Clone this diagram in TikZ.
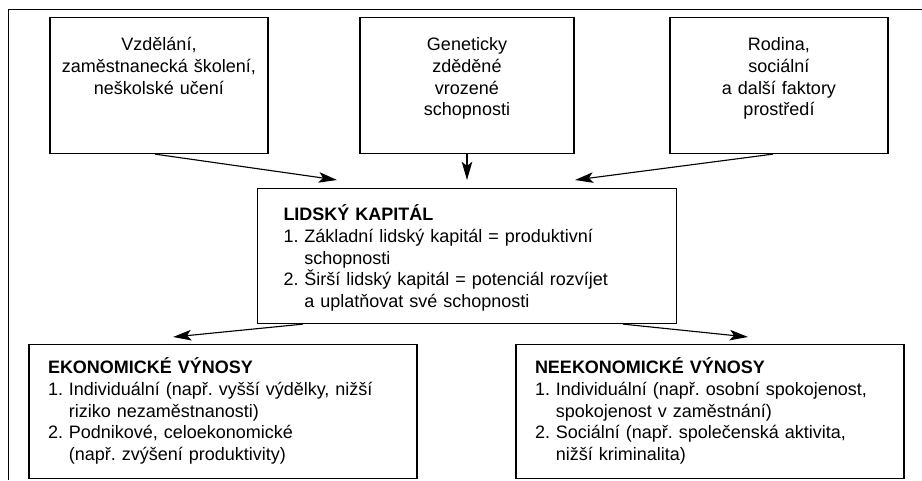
\documentclass[tikz,border=0pt]{standalone}
\usepackage{fontspec}
\setmainfont{Liberation Sans}
\usetikzlibrary{arrows.meta}
\newcommand{\bod}[1]{\makebox[0.52cm][l]{#1}}
\newcommand{\odsad}{\hspace*{0.52cm}}
\frenchspacing
\begin{document}
\begin{tikzpicture}[>={Stealth[length=13pt,width=7.5pt,inset=3pt]}, line width=0.8pt, font=\fontsize{12.8pt}{15.5pt}\selectfont]
        \tikzset{zdroj/.style={draw, anchor=north, align=center, text width=5.45cm, inner sep=0pt, text height=0.825cm, text depth=2.575cm},
                 vynos/.style={draw, anchor=north, align=left, text width=8.75cm, inner xsep=0.475cm, inner ysep=0pt, text height=0.725cm, text depth=2.625cm}}
        \useasboundingbox (0,0) rectangle (23.05,12);
        \draw[line width=0.6pt] (0.2,0) -- (0.2,11.775) -- (23.05,11.775);
        \node[zdroj] (vzdelani) at (3.975,11.575) {Vzdělání,\\zaměstnanecká školení,\\neškolské učení};
        \node[zdroj, text width=5.35cm] (geny) at (11.675,11.575) {Geneticky\\zděděné\\vrozené\\schopnosti};
        \node[zdroj] (rodina) at (19.475,11.575) {Rodina,\\sociální\\a další faktory\\prostředí};
        \node[vynos, text width=9.175cm, inner xsep=0.65cm, text height=0.8cm, text depth=2.575cm] (kapital) at (11.675,7.3)
            {\textbf{LIDSKÝ KAPITÁL}\\
             \bod{1.}Základní lidský kapitál = produktivní\\
             \odsad schopnosti\\
             \bod{2.}Širší lidský kapitál = potenciál rozvíjet\\
             \odsad a uplatňovat své schopnosti};
        \node[vynos] (ekonom) at (5.575,3.4)
            {\textbf{EKONOMICKÉ VÝNOSY}\\
             \bod{1.}Individuální (např. vyšší výdělky, nižší\\
             \odsad riziko nezaměstnanosti)\\
             \bod{2.}Podnikové, celoekonomické\\
             \odsad (např. zvýšení produktivity)};
        \node[vynos] (neekonom) at (17.75,3.4)
            {\textbf{NEEKONOMICKÉ VÝNOSY}\\
             \bod{1.}Individuální (např. osobní spokojenost,\\
             \odsad spokojenost v zaměstnání)\\
             \bod{2.}Sociální (např. společenská aktivita,\\
             \odsad nižší kriminalita)};
        \draw[->] ([xshift=-0.1cm]vzdelani.south) -- ([shift={(-3.25,0.2)}]kapital.north);
        \draw[->] (geny.south) -- ([yshift=0.2cm]kapital.north);
        \draw[->] ([xshift=-0.15cm]rodina.south) -- ([shift={(2.7,0.2)}]kapital.north);
        \draw[->] ([xshift=-4.1cm]kapital.south) -- ([shift={(-1.25,0.175)}]ekonom.north);
        \draw[->] ([xshift=3.9cm]kapital.south) -- ([shift={(0.95,0.175)}]neekonom.north);
    \end{tikzpicture}
\end{document}
